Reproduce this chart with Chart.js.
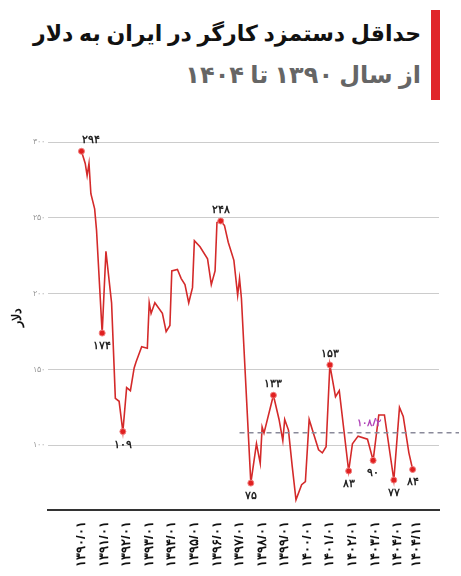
<!DOCTYPE html>
<html><head><meta charset="utf-8">
<script src="https://cdn.jsdelivr.net/npm/chart.js@4"></script>
<style>
body{margin:0;background:#fff;font-family:"Noto Sans","DejaVu Sans",sans-serif;}
#head{position:absolute;right:30px;top:12px;text-align:right;direction:rtl;}
#bar{position:absolute;right:21px;top:10px;width:9px;height:90px;background:#e0262b;}
h1{margin:0;font-size:22px;font-weight:800;color:#111;line-height:40px;padding-right:10px}
h2{margin:0;font-size:24px;font-weight:700;color:#666;line-height:44px;padding-right:10px}
#wrap{position:absolute;left:0;top:112px;width:461px;height:464px;}
</style></head><body>
<div id="bar"></div>
<div id="head"><h1>حداقل دستمزد کارگر در ایران به دلار</h1><h2>از سال ۱۳۹۰ تا ۱۴۰۴</h2></div>
<div id="wrap"><canvas id="c"></canvas></div>
<script>
// months since 1390/01 and dollar value
const months = [0,2,3,4,5,7,8,11,13,16,18,20,22,24,26,28,29,32,35,36,37,39,43,45,47,48,51,53,55,57,59,60,63,67,69,71,72,74,76,78,81,83,84,85,90,93,95,96,97,102,105,107,108,110,112,114,117,119,121,126,128,130,132,135,137,142,144,147,152,155,158,161,166,169,171,174,176];
const wages = [294,286,278,286,266,256,242,174,228,194,131,129,109,138,136,151,155,165,164,194,187,194,187,175,179,215,216,210,206,194,204,235,231,223,206,215,247,248,245,234,222,199,210,197,75,101,88,112,108,133,117,103,117,110,86,64,74,76,117,97,95,99,153,132,136,83,101,106,104,90,120,120,77,125,119,95,84];
const labelled = {0:'۲۹۴',7:'۱۷۴',12:'۱۰۹',37:'۲۴۸',44:'۷۵',49:'۱۳۳',62:'۱۵۳',65:'۸۳',69:'۹۰',72:'۷۷',76:'۸۴'};
const tickMonths = [0,12,24,36,48,60,72,84,96,108,120,132,144,156,168,178];
const tickLabels = ['۱۳۹۰/۰۱','۱۳۹۱/۰۱','۱۳۹۲/۰۱','۱۳۹۳/۰۱','۱۳۹۴/۰۱','۱۳۹۵/۰۱','۱۳۹۶/۰۱','۱۳۹۷/۰۱','۱۳۹۸/۰۱','۱۳۹۹/۰۱','۱۴۰۰/۰۱','۱۴۰۱/۰۱','۱۴۰۲/۰۱','۱۴۰۳/۰۱','۱۴۰۴/۰۱','۱۴۰۴/۱۱'];
const yTicks = [100,150,200,250,300];
const meanStart = 84, meanValue = 108.2, meanLabel = '۱۰۸/۲';

const fa = n => String(n).replace(/\d/g, d => '۰۱۲۳۴۵۶۷۸۹'[d]);
const pts = months.map((m, i) => ({x: m, y: wages[i]}));

const labelsPlugin = {
  id: 'labels',
  afterDatasetsDraw(chart) {
    const ctx = chart.ctx, xs = chart.scales.x, ys = chart.scales.y;
    // mean line
    ctx.save();
    ctx.strokeStyle = '#8a8a9a'; ctx.lineWidth = 1.5; ctx.setLineDash([5, 4]);
    const my = ys.getPixelForValue(meanValue);
    ctx.beginPath(); ctx.moveTo(xs.getPixelForValue(meanStart), my); ctx.lineTo(chart.chartArea.right + 20, my); ctx.stroke();
    ctx.setLineDash([]);
    ctx.fillStyle = '#b044b8'; ctx.font = 'bold 10px "Noto Sans"'; ctx.textAlign = 'center';
    ctx.fillText(meanLabel, xs.getPixelForValue(153), my - 7);
    // point labels
    ctx.font = 'bold 11px "Noto Sans"'; ctx.fillStyle = '#222';
    const meta = chart.getDatasetMeta(0);
    Object.keys(labelled).forEach(k => {
      const p = meta.data[k], i = +k;
      const below = wages[i] < (wages[i - 1] ?? 0) && i !== 0;
      ctx.fillText(labelled[k], p.x + (i === 0 ? 10 : 0), below ? p.y + 16 : p.y - 8);
    });
    ctx.restore();
  }
};

new Chart(document.getElementById('c'), {
  type: 'line',
  data: { datasets: [{
    data: pts,
    borderColor: '#d42a2a', borderWidth: 1.6, tension: 0,
    pointRadius: ctx => labelled[ctx.dataIndex] ? 3 : 0,
    pointBackgroundColor: '#e02020', pointBorderColor: '#f08080', pointBorderWidth: 1
  }]},
  options: {
    responsive: true, maintainAspectRatio: false, animation: false,
    layout: { padding: { left: 6, right: 22, top: 12, bottom: 6 } },
    plugins: { legend: { display: false }, tooltip: { enabled: false } },
    scales: {
      x: {
        type: 'linear', min: -18, max: 190,
        afterBuildTicks: s => { s.ticks = tickMonths.map(v => ({value: v})); },
        ticks: { autoSkip: false, minRotation: 90, maxRotation: 90, color: '#111',
          font: { size: 13, weight: 'bold' },
          callback: v => tickLabels[tickMonths.indexOf(v)] },
        grid: { display: false },
        border: { color: '#333', width: 2 }
      },
      y: {
        min: 57, max: 312,
        afterBuildTicks: s => { s.ticks = yTicks.map(v => ({value: v})); },
        ticks: { color: '#999', font: { size: 8 }, callback: v => fa(v) },
        grid: { color: '#ccc', drawTicks: false },
        border: { display: false },
        title: { display: true, text: 'دلار', color: '#111', font: { size: 13, weight: 'bold' } }
      }
    }
  },
  plugins: [labelsPlugin]
});
</script>
</body></html>
